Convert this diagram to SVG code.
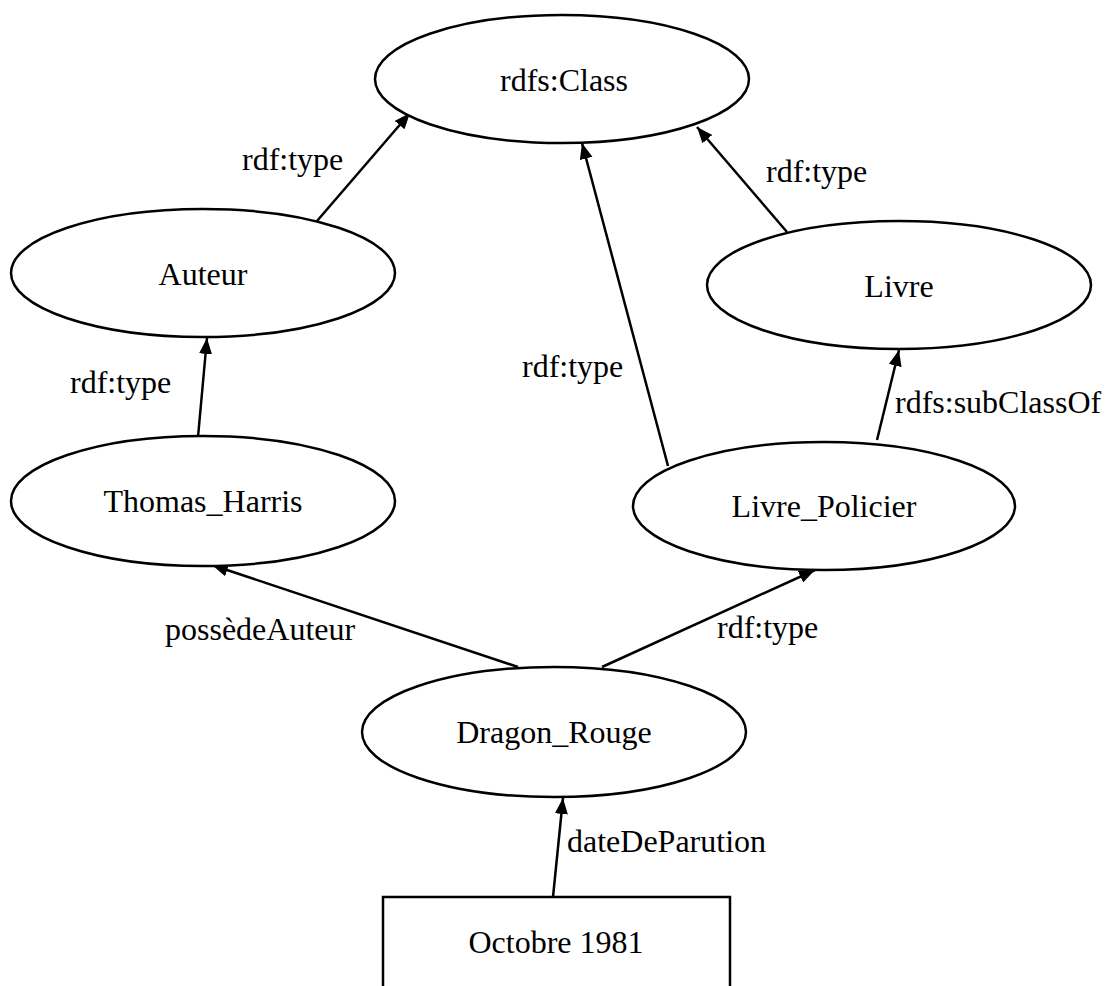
<svg xmlns="http://www.w3.org/2000/svg" width="1106" height="986" viewBox="0 0 1106 986">
  <style>
    .node { fill: #ffffff; stroke: #000000; stroke-width: 2.5; }
    .edge { stroke: #000000; stroke-width: 2.5; fill: none; marker-end: url(#arrow); }
    .label { font-family: "Liberation Serif", "Times New Roman", serif; font-size: 32px; fill: #000000; }
    .center { text-anchor: middle; }
  </style>
  <defs>
    <marker id="arrow" markerUnits="userSpaceOnUse" markerWidth="18" markerHeight="14" refX="16" refY="6.5" orient="auto">
      <path d="M0,0 L16,6.5 L0,13 z" fill="#000000"/>
    </marker>
  </defs>
  <rect x="0" y="0" width="1106" height="986" fill="#ffffff"/>

  <!-- connectors -->
  <g id="edges">
    <line class="edge" x1="317" y1="221" x2="410" y2="113"/>
    <line class="edge" x1="787" y1="232" x2="697" y2="127"/>
    <line class="edge" x1="668" y1="466" x2="582" y2="143"/>
    <line class="edge" x1="198" y1="437" x2="207" y2="338"/>
    <line class="edge" x1="877" y1="440" x2="899" y2="350"/>
    <line class="edge" x1="518" y1="667" x2="212" y2="565"/>
    <line class="edge" x1="602" y1="667" x2="815" y2="570"/>
    <line class="edge" x1="553" y1="897" x2="563" y2="798"/>
    <text class="label" x="242" y="170">rdf:type</text>
    <text class="label" x="766" y="182">rdf:type</text>
    <text class="label" x="522" y="377">rdf:type</text>
    <text class="label" x="70" y="393">rdf:type</text>
    <text class="label" x="895" y="413">rdfs:subClassOf</text>
    <text class="label" x="165" y="640">possèdeAuteur</text>
    <text class="label" x="717" y="638">rdf:type</text>
    <text class="label" x="567" y="852">dateDeParution</text>
  </g>

  <!-- nodes -->
  <g id="rdfs-class">
    <ellipse class="node" cx="562" cy="79" rx="187" ry="64"/>
    <text class="label center" x="564" y="91">rdfs:Class</text>
  </g>
  <g id="auteur">
    <ellipse class="node" cx="203" cy="273" rx="192" ry="64"/>
    <text class="label center" x="203" y="285">Auteur</text>
  </g>
  <g id="livre">
    <ellipse class="node" cx="899" cy="285" rx="192" ry="64"/>
    <text class="label center" x="899" y="297">Livre</text>
  </g>
  <g id="thomas-harris">
    <ellipse class="node" cx="203" cy="501" rx="192" ry="65"/>
    <text class="label center" x="203" y="512">Thomas_Harris</text>
  </g>
  <g id="livre-policier">
    <ellipse class="node" cx="824" cy="506" rx="191" ry="64"/>
    <text class="label center" x="824" y="517">Livre_Policier</text>
  </g>
  <g id="dragon-rouge">
    <ellipse class="node" cx="554" cy="732" rx="192" ry="65"/>
    <text class="label center" x="554" y="743">Dragon_Rouge</text>
  </g>
  <g id="octobre-1981">
    <rect class="node" x="383" y="897" width="347" height="120"/>
    <text class="label center" x="556" y="953">Octobre 1981</text>
  </g>
</svg>
